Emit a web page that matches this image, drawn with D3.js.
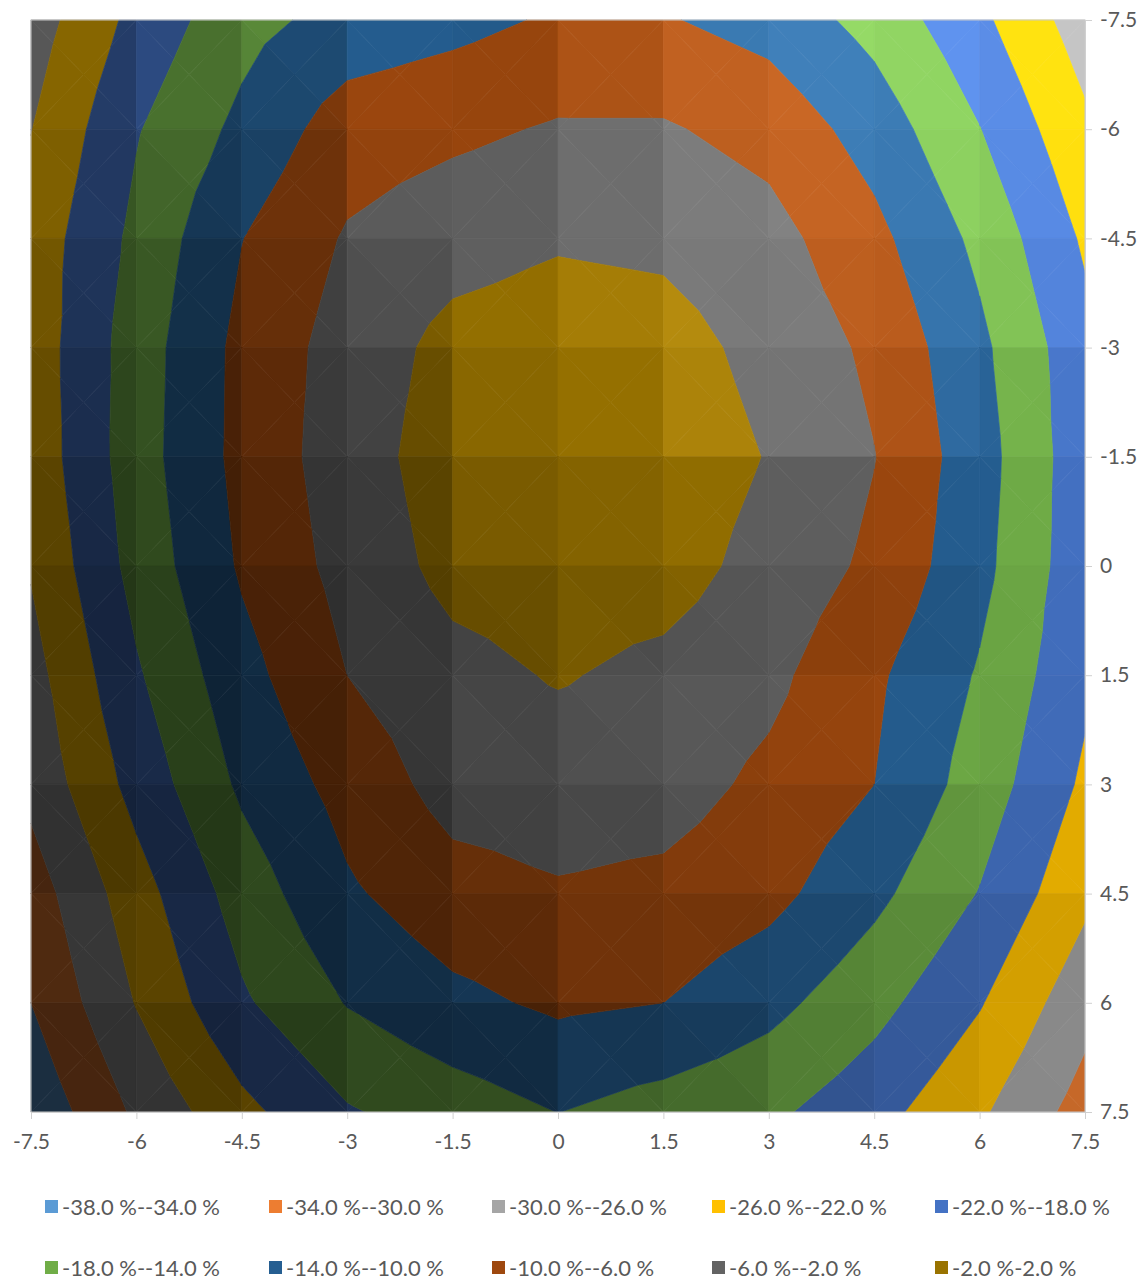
<!DOCTYPE html>
<html><head><meta charset="utf-8">
<script src="https://cdn.jsdelivr.net/npm/d3@7"></script>
<style>body{margin:0;background:#fff}svg{display:block}</style>
</head><body>
<svg id="chart" width="1146" height="1280"></svg>
<script>
// ---- data ----
const xValues = [-7.5,-6,-4.5,-3,-1.5,0,1.5,3,4.5,6,7.5];
const yValues = [-7.5,-6,-4.5,-3,-1.5,0,1.5,3,4.5,6,7.5];
const xTickLabels = ["-7.5","-6","-4.5","-3","-1.5","0","1.5","3","4.5","6","7.5"];
const yTickLabels = ["-7.5","-6","-4.5","-3","-1.5","0","1.5","3","4.5","6","7.5"];
// surface values (percent), one array per y row
const rowYm7_5 = [-28.0,-20.8,-15.4,-12.5,-11.2,-9.5,-9.7,-11.5,-15.4,-21.1,-28.1];
const rowYm6   = [-26.1,-18.3,-13.0,-8.0,-6.9,-5.6,-5.6,-7.4,-11.7,-17.9,-25.2];
const rowYm4_5 = [-24.4,-17.0,-10.1,-5.6,-3.5,-2.4,-2.8,-4.6,-8.9,-15.0,-22.6];
const rowYm3   = [-24.3,-16.0,-8.9,-4.3,-0.8,0.0,-0.45,-3.2,-6.8,-13.1,-20.7];
const rowYm1_5 = [-24.6,-15.8,-8.8,-3.9,0.0,0.8,0.5,-2.2,-5.9,-12.3,-20.5];
const rowY0    = [-25.7,-16.6,-9.5,-4.6,-0.8,0.0,-0.3,-3.4,-6.8,-12.8,-20.6];
const rowY1_5  = [-27.5,-18.5,-11.4,-6.0,-3.2,-1.7,-3.0,-5.0,-9.3,-14.4,-21.2];
const rowY3    = [-28.9,-20.6,-13.3,-8.5,-4.5,-4.0,-4.3,-6.9,-10.0,-15.8,-22.7];
const rowY4_5  = [-32.0,-23.7,-16.2,-10.6,-7.5,-6.4,-7.0,-8.8,-13.0,-18.2,-25.1];
const rowY6    = [-34.0,-25.8,-18.6,-13.8,-11.0,-9.3,-10.0,-12.8,-16.7,-21.7,-28.6];
const rowY7_5  = [-37.1,-29.3,-23.1,-18.4,-16.1,-13.95,-15.7,-17.2,-20.6,-25.4,-31.7];
// bands
const bandLows  = [-38,-34,-30,-26,-22,-18,-14,-10,-6,-2];
const bandHighs = [-34,-30,-26,-22,-18,-14,-10,-6,-2,2];
const bandLabels = ["-38.0 %--34.0 %","-34.0 %--30.0 %","-30.0 %--26.0 %","-26.0 %--22.0 %","-22.0 %--18.0 %",
                    "-18.0 %--14.0 %","-14.0 %--10.0 %","-10.0 %--6.0 %","-6.0 %--2.0 %","-2.0 %-2.0 %"];
const bandColors = ["#5B9BD5","#ED7D31","#A5A5A5","#FFC000","#4472C4","#70AD47","#255E91","#9E480E","#636363","#997300"];

// ---- build ----
const grid = [rowYm7_5,rowYm6,rowYm4_5,rowYm3,rowYm1_5,rowY0,rowY1_5,rowY3,rowY4_5,rowY6,rowY7_5];
const svg = d3.select("#chart");
const x = d3.scaleLinear().domain([-7.5,7.5]).range([31,1085]);
const y = d3.scaleLinear().domain([-7.5,7.5]).range([20,1112]);

const Lraw = [0.5,-0.55,0.67];
const Ln = Math.hypot(...Lraw);
const L = Lraw.map(d=>d/Ln);
const zk = 0.25;

function dotN(n){
  if(n[2]<0) n=n.map(d=>-d);
  const l=Math.hypot(...n);
  return (n[0]*L[0]+n[1]*L[1]+n[2]*L[2])/l;
}
function triDot(a,b,c){
  const u=[b.x-a.x,b.y-a.y,(b.v-a.v)*zk], w=[c.x-a.x,c.y-a.y,(c.v-a.v)*zk];
  return dotN([u[1]*w[2]-u[2]*w[1], u[2]*w[0]-u[0]*w[2], u[0]*w[1]-u[1]*w[0]]);
}
function shade(hex,dot){
  const c=d3.rgb(hex);
  const m=0.42+0.72*dot;
  const add=Math.max(0,dot-0.8)*110;
  const f=v=>Math.max(0,Math.min(255,v*m+add));
  return d3.rgb(f(c.r),f(c.g),f(c.b)).formatHex();
}
function clip(poly, level, keepAbove){
  const out=[];
  for(let k=0;k<poly.length;k++){
    const a=poly[k], b=poly[(k+1)%poly.length];
    const ina = keepAbove ? a.v>=level : a.v<=level;
    const inb = keepAbove ? b.v>=level : b.v<=level;
    if(ina) out.push(a);
    if(ina!==inb){
      const t=(level-a.v)/(b.v-a.v);
      out.push({x:a.x+t*(b.x-a.x), y:a.y+t*(b.y-a.y), v:level});
    }
  }
  return out;
}
const pieces=[];
for(let j=0;j<yValues.length-1;j++){
  for(let i=0;i<xValues.length-1;i++){
    const tl={x:xValues[i],y:yValues[j],v:grid[j][i]};
    const tr={x:xValues[i+1],y:yValues[j],v:grid[j][i+1]};
    const br={x:xValues[i+1],y:yValues[j+1],v:grid[j+1][i+1]};
    const bl={x:xValues[i],y:yValues[j+1],v:grid[j+1][i]};
    const dx=tr.x-tl.x, dy=bl.y-tl.y;
    const gx=((tr.v+br.v)-(tl.v+bl.v))/2/dx, gy=((bl.v+br.v)-(tl.v+tr.v))/2/dy;
    const cellDot=dotN([-zk*gx,-zk*gy,1]);
    const c={x:(tl.x+tr.x)/2,y:(tl.y+bl.y)/2,v:(tl.v+tr.v+br.v+bl.v)/4};
    const tris=[[tl,tr,c],[tr,br,c],[br,bl,c],[bl,tl,c]];
    tris.forEach(t=>{
      const dot=0.78*cellDot+0.22*triDot(t[0],t[1],t[2]);
      bandLows.forEach((lo,bi)=>{
        let p=clip(t,lo,true);
        if(p.length<3) return;
        p=clip(p,bandHighs[bi],false);
        if(p.length<3) return;
        pieces.push({pts:p, fill:shade(bandColors[bi],dot)});
      });
    });
  }
}
const plot=svg.append("g");
plot.selectAll("path").data(pieces).join("path")
  .attr("d",d=>"M"+d.pts.map(p=>x(p.x).toFixed(2)+","+y(p.y).toFixed(2)).join("L")+"Z")
  .attr("fill",d=>d.fill).attr("stroke",d=>d.fill).attr("stroke-width",0.7).attr("stroke-linejoin","round");

// border
svg.append("rect").attr("x",x(-7.5)).attr("y",y(-7.5)).attr("width",x(7.5)-x(-7.5)).attr("height",y(7.5)-y(-7.5))
  .attr("fill","none").attr("stroke","#c9c9c9").attr("stroke-width",1);

const font="Lato, 'Open Sans', sans-serif";
// axes
const gx=svg.append("g").attr("transform",`translate(0,${y(7.5)})`)
  .call(d3.axisBottom(x).tickValues(xValues).tickFormat((d,i)=>xTickLabels[i]).tickSizeInner(7).tickSizeOuter(0).tickPadding(15));
const gy=svg.append("g").attr("transform",`translate(${x(7.5)},0)`)
  .call(d3.axisRight(y).tickValues(yValues).tickFormat((d,i)=>yTickLabels[i]).tickSizeInner(7).tickSizeOuter(0).tickPadding(8));
[gx,gy].forEach(g=>{
  g.select(".domain").attr("stroke","#d0d0d0");
  g.selectAll(".tick line").attr("stroke","#d0d0d0");
  g.selectAll("text").attr("fill","#595959").style("font-family",font).style("font-size","21px");
});

// legend
const legX=[45,269,492,712,935];
const legY=[1207,1268];
const leg=svg.append("g");
bandLabels.forEach((lab,k)=>{
  const r=Math.floor(k/5), cI=k%5;
  const g=leg.append("g").attr("transform",`translate(${legX[cI]},${legY[r]})`);
  g.append("rect").attr("x",0).attr("y",-7).attr("width",13).attr("height",13).attr("fill",bandColors[k]);
  g.append("text").attr("x",17).attr("y",0).attr("dy","0.35em").text(lab)
    .attr("fill","#595959").style("font-family",font).style("font-size","21px");
});
const t0=leg.select("text").node();
const w0=t0.getComputedTextLength();
const fs=21*158/w0;
leg.selectAll("text").style("font-size",fs.toFixed(2)+"px");
</script>
</body></html>
